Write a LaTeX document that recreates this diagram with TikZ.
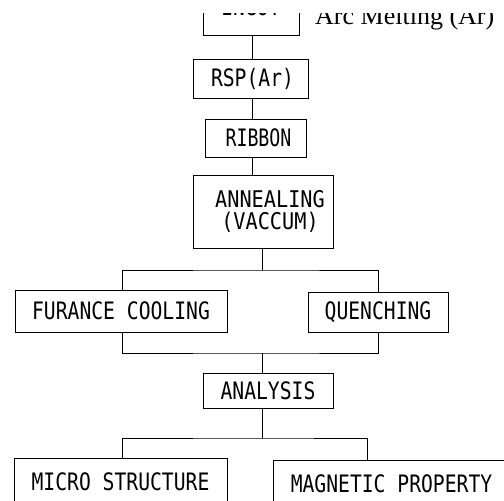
\documentclass[tikz,border=0pt]{standalone}
\usepackage{fontspec}
\newfontfamily\monof{DejaVu Sans Mono}[FakeStretch=0.82]
\newfontfamily\narrowf{DejaVu Sans Mono}[FakeStretch=0.76]
\newfontfamily\widef{DejaVu Sans Mono}[FakeStretch=0.88]
\newfontfamily\arcf{Liberation Serif}
\begin{document}
\begin{tikzpicture}[x=1pt,y=-1pt,
  box/.style={draw=black,line width=0.8pt,inner sep=0pt,font=\monof\fontsize{24}{22}\selectfont},
  conn/.style={draw=black,line width=0.8pt}]
\useasboundingbox (0,0) rectangle (504,501);
\clip (0,13) rectangle (504,501);
\node[box,minimum width=96,minimum height=56] (ingot) at (251,7) {INGOT};
\node[anchor=base west,font=\arcf\fontsize{26}{26}\selectfont,inner sep=0pt] (arc) at (315,24.5) {Arc Melting (Ar)};
\node[box,minimum width=115,minimum height=39] (rsp) at (250.5,78.5) {\hspace*{4pt}RSP(Ar)};
\node[box,minimum width=101,minimum height=38,font=\narrowf\fontsize{24}{22}\selectfont] (ribbon) at (255.5,138) {\hspace*{6pt}RIBBON};
\node[box,minimum width=140,minimum height=73,align=center,font=\widef\fontsize{23}{22}\selectfont] (anneal) at (263,211.5) {\hspace*{14pt}ANNEALING\\\hspace*{14pt}(VACCUM)};
\node[box,minimum width=212,minimum height=42] (furnace) at (121,311) {FURANCE COOLING};
\node[box,minimum width=140,minimum height=40] (quench) at (378,312) {QUENCHING};
\node[box,minimum width=130,minimum height=35] (analysis) at (268,390.5) {ANALYSIS};
\node[box,minimum width=213,minimum height=48] (micro) at (120.5,482) {MICRO STRUCTURE};
\node[box,minimum width=237,minimum height=48] (magnetic) at (391.5,484) {MAGNETIC PROPERTY};
\coordinate (sA) at (252,0);
\coordinate (lc) at (122,0);
\coordinate (rc) at (378,0);
\coordinate (rc2) at (367,0);
\coordinate (b1) at (262,270);
\coordinate (b2) at (262,353);
\coordinate (b3) at (262,438);
\draw[conn] (sA |- ingot.south) -- (sA |- rsp.north);
\draw[conn] (sA |- rsp.south) -- (sA |- ribbon.north);
\draw[conn] (sA |- ribbon.south) -- (sA |- anneal.north);
\draw[conn] (b1 |- anneal.south) -- (b1);
\draw[conn] (lc |- furnace.north) |- (b1) -| (rc |- quench.north);
\draw[conn] (lc |- furnace.south) |- (b2) -| (rc |- quench.south);
\draw[conn] (b2) -- (b2 |- analysis.north);
\draw[conn] (b3 |- analysis.south) -- (b3);
\draw[conn] (lc |- micro.north) |- (b3) -| (rc2 |- magnetic.north);
\end{tikzpicture}
\end{document}
